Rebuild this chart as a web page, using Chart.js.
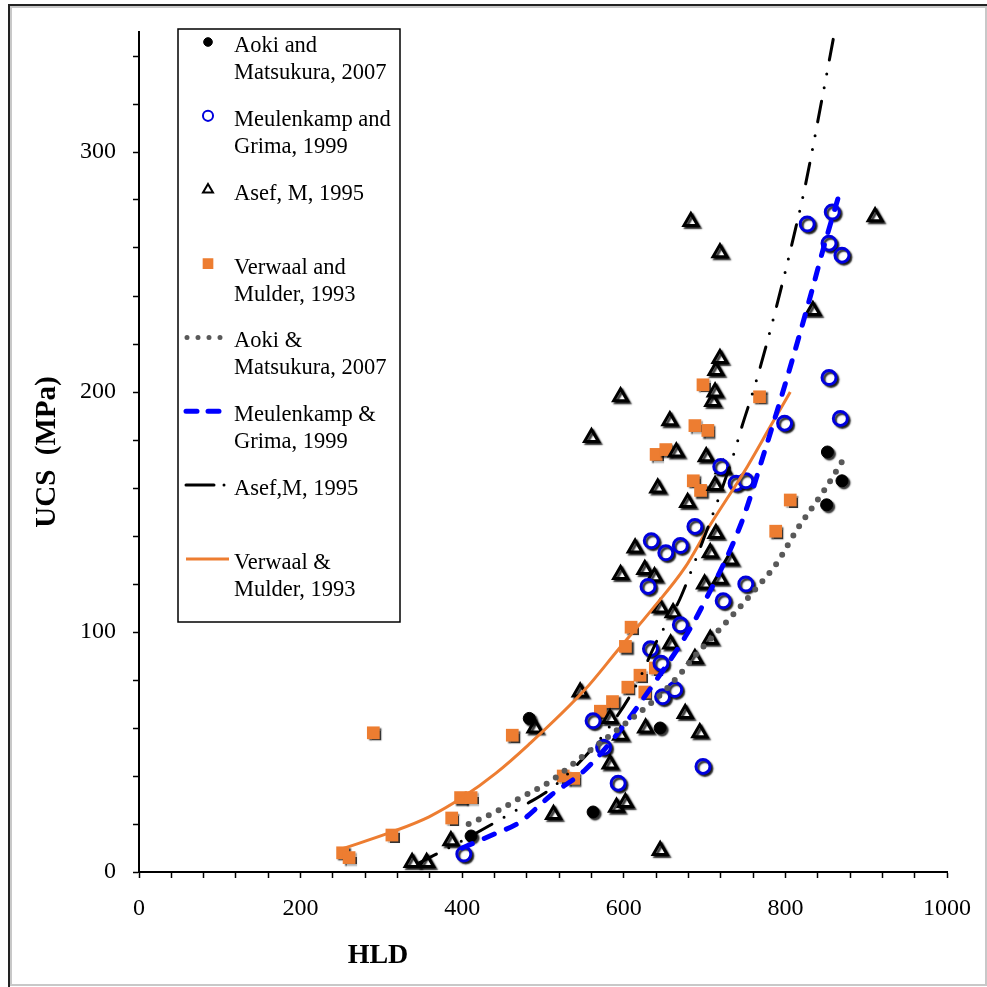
<!DOCTYPE html>
<html>
<head>
<meta charset="utf-8">
<title>UCS vs HLD</title>
<script src="https://cdn.jsdelivr.net/npm/chart.js@4.4.1/dist/chart.umd.min.js"></script>
<style>
  html, body { margin: 0; padding: 0; background: #fff; }
</style>
</head>
<body>
<canvas id="ucsChart" width="987" height="987"></canvas>
<script>
// measured points: HLD (x) and UCS in MPa (y)
const aokiHLD = [411, 483, 562, 645, 851, 852, 870];
const aokiUCS = [15, 64, 25, 60, 153, 175, 163];

const meulenkampHLD = [402, 562, 575, 593, 630, 633, 634, 646, 648, 652, 663, 670, 670, 688, 698, 720, 723, 739, 751, 751, 799, 827, 854, 854, 858, 868, 870];
const meulenkampUCS = [7.5, 63, 52, 37, 119, 93, 138, 87, 73, 133, 76, 103, 136, 144, 44, 169, 113, 162, 163, 120, 187, 270, 206, 262, 275, 189, 257];

const asefHLD = [338, 356, 386, 490, 513, 546, 560, 583, 583, 591, 596, 596, 596, 602, 614, 626, 627, 638, 642, 645, 645, 657, 658, 661, 665, 676, 679, 683, 688, 694, 700, 702, 707, 707, 710, 713, 713, 714, 714, 719, 719, 719, 723, 732, 834, 911];
const asefUCS = [4, 4, 13, 60, 24, 75, 181, 64, 45, 27, 57, 124, 198, 29, 135, 126, 60, 123, 160, 110, 9, 188, 95, 108, 175, 66, 154, 271, 89, 58, 120, 173, 133, 97, 196, 200, 161, 209, 141, 214, 258, 122, 168, 130, 234, 273];

const verwaalHLD = [252, 260, 290, 313, 387, 398, 411, 462, 525, 538, 571, 586, 602, 605, 609, 620, 626, 639, 640, 652, 686, 688, 695, 698, 704, 768, 788, 806];
const verwaalUCS = [8, 6, 58, 15.4, 22.5, 31, 31, 57, 40, 39, 67, 71, 94, 77, 102, 82, 75, 85, 174, 176, 163, 186, 159, 203, 184, 198, 142, 155];

// fitted curves
const aokiFitHLD = [408, 441, 470, 510, 552, 593, 634, 652, 671, 688, 707, 732, 766, 790, 815, 848, 872];
const aokiFitUCS = [20, 25, 30.5, 38, 49, 59.5, 70.5, 76, 83, 90, 97, 106, 119, 129, 143, 159, 172];

const meulenkampFitHLD = [400, 441, 470, 510, 552, 593, 634, 676, 696, 745, 774, 803, 831, 848, 868];
const meulenkampFitUCS = [10, 16, 20.5, 32, 42.5, 58, 77, 98, 110, 145, 175, 207, 240, 261, 284];

const asefFitHLD = [345, 408, 478, 507, 531, 572, 614, 642, 667, 683, 735, 747, 757, 766, 776, 787, 799, 809, 824, 843, 862];
const asefFitUCS = [3.5, 14.5, 28, 34, 41, 56, 77, 97, 112, 125, 173, 186.5, 197, 207, 219, 233, 249, 263, 285, 318, 352];

const verwaalFitHLD = [250, 313, 359, 400, 441, 482, 552, 593, 634, 676, 704, 753, 782, 806];
const verwaalFitUCS = [9.5, 16.7, 23, 31, 41, 53, 76, 92.6, 109, 127, 143, 169, 186, 200];

const xTicksLabelled = [0, 200, 400, 600, 800, 1000];
const yTicksLabelled = [0, 100, 200, 300];

const toPoints = (xs, ys) => xs.map((x, i) => ({ x: x, y: ys[i] }));

const SERIF = '"Liberation Serif", "Times New Roman", serif';
const ORANGE = '#ED7D31';

function markerSet(label, xs, ys, style) {
    return Object.assign({ label: label, data: toPoints(xs, ys), showLine: false, order: 2 }, style);
}

function fitLine(label, xs, ys, style) {
    return Object.assign({
        label: label,
        data: toPoints(xs, ys),
        showLine: true,
        fill: false,
        pointRadius: 0,
        pointHoverRadius: 0,
        cubicInterpolationMode: 'monotone',
        order: 1,
    }, style);
}

const datasets = [
    markerSet('Aoki and\nMatsukura, 2007', aokiHLD, aokiUCS, {
        pointStyle: 'circle', pointRadius: 6, backgroundColor: '#000', borderColor: '#000', pointBorderWidth: 1,
    }),
    markerSet('Meulenkamp and\nGrima, 1999', meulenkampHLD, meulenkampUCS, {
        pointStyle: 'circle', pointRadius: 7, backgroundColor: '#fff', borderColor: '#0000dd', pointBorderWidth: 3,
    }),
    markerSet('Asef, M, 1995', asefHLD, asefUCS, {
        pointStyle: 'triangle', pointRadius: 8, backgroundColor: '#fff', borderColor: '#000', pointBorderWidth: 3,
    }),
    markerSet('Verwaal and\nMulder, 1993', verwaalHLD, verwaalUCS, {
        pointStyle: 'rect', pointRadius: 9, backgroundColor: ORANGE, borderColor: ORANGE, pointBorderWidth: 0,
    }),
    fitLine('Aoki &\nMatsukura, 2007', aokiFitHLD, aokiFitUCS, {
        borderColor: '#595959', borderWidth: 6, borderDash: [0, 11], borderCapStyle: 'round',
    }),
    fitLine('Meulenkamp &\nGrima, 1999', meulenkampFitHLD, meulenkampFitUCS, {
        borderColor: '#0000ff', borderWidth: 5, borderDash: [11, 13], borderCapStyle: 'round',
    }),
    fitLine('Asef,M, 1995', asefFitHLD, asefFitUCS, {
        borderColor: '#000', borderWidth: 3, borderDash: [21, 14, 0, 14, 0, 14], borderCapStyle: 'round',
    }),
    fitLine('Verwaal &\nMulder, 1993', verwaalFitHLD, verwaalFitUCS, {
        borderColor: ORANGE, borderWidth: 3,
    }),
];

// white page with the thin frame round it
const framePlugin = {
    id: 'frame',
    beforeDraw(chart) {
        const ctx = chart.ctx;
        ctx.save();
        ctx.fillStyle = '#fff';
        ctx.fillRect(0, 0, chart.width, chart.height);
        ctx.strokeStyle = '#c8c8c8';
        ctx.lineWidth = 2;
        ctx.strokeRect(11, 7, chart.width - 12, chart.height - 9);
        ctx.strokeStyle = '#222';
        ctx.lineWidth = 2;
        ctx.beginPath();
        ctx.moveTo(9, chart.height);
        ctx.lineTo(9, 5);
        ctx.lineTo(chart.width, 5);
        ctx.stroke();
        ctx.restore();
    },
};

// the markers have a small drop shadow
const shadowPlugin = {
    id: 'markerShadow',
    beforeDatasetDraw(chart, args) {
        if (chart.data.datasets[args.index].showLine) return;
        const ctx = chart.ctx;
        ctx.save();
        ctx.shadowColor = 'rgba(0,0,0,0.8)';
        ctx.shadowOffsetX = 2;
        ctx.shadowOffsetY = 2;
        ctx.shadowBlur = 1.5;
    },
    afterDatasetDraw(chart, args) {
        if (chart.data.datasets[args.index].showLine) return;
        chart.ctx.restore();
    },
};

// legend box inside the plot (two-line labels), plus the off-centre x title
const legendPlugin = {
    id: 'boxLegend',
    afterDraw(chart) {
        const ctx = chart.ctx;
        const box = { left: 178, top: 29, right: 400, bottom: 622 };
        ctx.save();
        ctx.fillStyle = '#fff';
        ctx.fillRect(box.left, box.top, box.right - box.left, box.bottom - box.top);
        ctx.strokeStyle = '#000';
        ctx.lineWidth = 1.5;
        ctx.strokeRect(box.left, box.top, box.right - box.left, box.bottom - box.top);

        chart.data.datasets.forEach((ds, i) => {
            const y = 42 + i * 73.85;
            const mx = 208;
            ctx.save();
            if (ds.showLine) {
                ctx.strokeStyle = ds.borderColor;
                ctx.lineWidth = Math.min(ds.borderWidth, 5);
                ctx.lineCap = ds.borderCapStyle || 'butt';
                const dash = ds.borderDash ? ds.borderDash.slice() : [];
                if (i === 5) dash.splice(0, 2, 11, 11);
                if (i === 6) dash.splice(0, 6, 28, 10, 0, 40);
                ctx.setLineDash(dash);
                ctx.beginPath();
                ctx.moveTo(i === 4 ? 187 : 186, y);
                ctx.lineTo(229, y);
                ctx.stroke();
            } else {
                ctx.fillStyle = ds.backgroundColor;
                ctx.strokeStyle = ds.borderColor;
                ctx.lineWidth = Math.min(ds.pointBorderWidth, 2);
                Chart.helpers.drawPoint(ctx, {
                    pointStyle: ds.pointStyle,
                    radius: ds.pointRadius * 0.72,
                    borderWidth: ctx.lineWidth,
                    rotation: 0,
                }, mx, y);
            }
            ctx.restore();

            ctx.fillStyle = '#000';
            ctx.font = '22.5px ' + SERIF;
            ctx.textAlign = 'left';
            ctx.textBaseline = 'alphabetic';
            ds.label.split('\n').forEach((line, k) => {
                ctx.fillText(line, 234, y + 10 + k * 27);
            });
        });

        ctx.font = 'bold 28px ' + SERIF;
        ctx.textAlign = 'center';
        ctx.fillText('HLD', 378, 963);
        ctx.restore();
    },
};

new Chart(document.getElementById('ucsChart'), {
    type: 'scatter',
    data: { datasets: datasets },
    options: {
        responsive: false,
        animation: false,
        devicePixelRatio: 1,
        layout: { padding: { left: 30, top: 32, right: 37, bottom: 0 } },
        plugins: {
            legend: { display: false },
            tooltip: { enabled: false },
        },
        scales: {
            x: {
                type: 'linear',
                min: 0,
                max: 1000,
                border: { color: '#000', width: 2 },
                grid: { drawOnChartArea: false, drawTicks: true, tickLength: 6, tickColor: '#000', tickWidth: 1.5 },
                ticks: {
                    stepSize: 40,
                    autoSkip: false,
                    maxRotation: 0,
                    padding: 16,
                    color: '#000',
                    font: { family: SERIF, size: 24 },
                    callback: v => xTicksLabelled.includes(v) ? String(v) : '',
                },
                afterFit: scale => { scale.height = 115; },
            },
            y: {
                type: 'linear',
                min: 0,
                max: 350,
                border: { color: '#000', width: 2 },
                grid: { drawOnChartArea: false, drawTicks: true, tickLength: 6, tickColor: '#000', tickWidth: 1.5 },
                ticks: {
                    stepSize: 20,
                    includeBounds: false,
                    autoSkip: false,
                    padding: 17,
                    color: '#000',
                    font: { family: SERIF, size: 24 },
                    callback: v => yTicksLabelled.includes(v) ? String(v) : '',
                },
                title: {
                    display: true,
                    text: 'UCS  (MPa)',
                    color: '#000',
                    padding: 0,
                    font: { family: SERIF, size: 29, weight: 'bold' },
                },
                afterFit: scale => { scale.width = 109; },
            },
        },
    },
    plugins: [framePlugin, shadowPlugin, legendPlugin],
});
</script>
</body>
</html>
